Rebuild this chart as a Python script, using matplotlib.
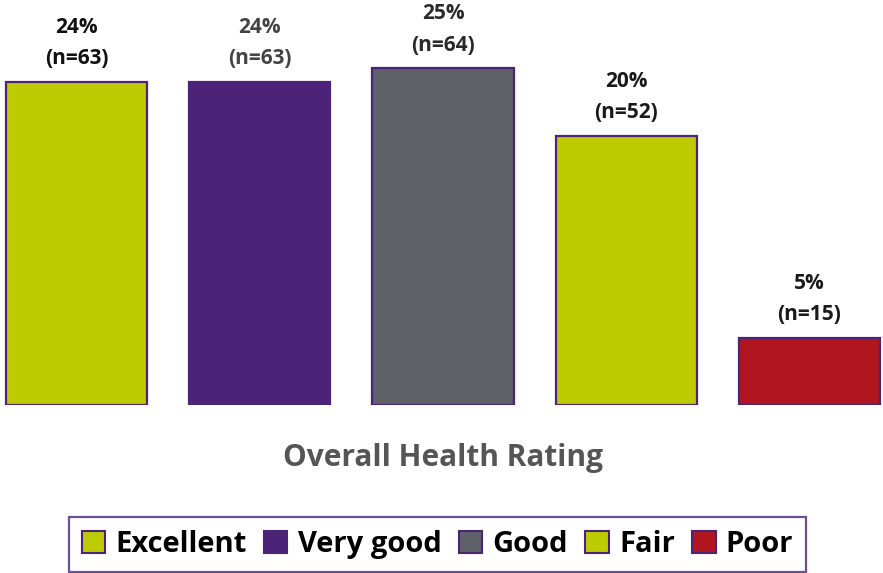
import matplotlib
matplotlib.use("Agg")
import matplotlib.pyplot as plt
from matplotlib.patches import Patch

categories = ["Excellent", "Very good", "Good", "Fair", "Poor"]
percents = [24, 24, 25, 20, 5]
counts = [63, 63, 64, 52, 15]
colors = ["#BCCC00", "#4B2378", "#5E6168", "#BCCC00", "#B0161F"]
label_colors = ["#111111", "#444444", "#2a2a2a", "#1a1a1a", "#1a1a1a"]
edge = "#4B2378"

W, H = 883, 573
fig = plt.figure(figsize=(W/100, H/100), dpi=100)
base_px = 405
ax = fig.add_axes([0, (H-base_px)/H, 1, base_px/H])
pitch = 183.25
x0 = 76.5
ax.set_xlim(-x0/pitch, (W-x0)/pitch)
ax.set_ylim(0, base_px/13.47)
xs = list(range(len(categories)))
ax.bar(xs, percents, width=0.77, color=colors, edgecolor=edge, linewidth=1.6)
for x, p, n, c in zip(xs, percents, counts, label_colors):
    ax.annotate(f"{p}%\n(n={n})", (x, p), xytext=(0, 9), textcoords="offset points",
                ha="center", va="bottom", fontsize=15, fontweight="bold",
                color=c, family="Open Sans", linespacing=1.65)
ax.axis("off")

fig.text(443/W, 1-458/H, "Overall Health Rating", ha="center", va="center",
         fontsize=21.5, fontweight="bold", color="#555555", family="Open Sans")

handles = [Patch(facecolor=c, edgecolor=edge, linewidth=1.5, label=l) for c, l in zip(colors, categories)]
leg = fig.legend(handles=handles, loc="center", bbox_to_anchor=(437.5/W, 1-544.5/H),
                 ncol=5, frameon=True, fancybox=False, handlelength=0.8, handleheight=0.8,
                 handletextpad=0.35, columnspacing=0.6, borderpad=0.45,
                 prop={"family": "Open Sans", "weight": "bold", "size": 21})
leg.get_frame().set_edgecolor(edge)
leg.get_frame().set_linewidth(1.6)

fig.savefig("out.png", dpi=100)
